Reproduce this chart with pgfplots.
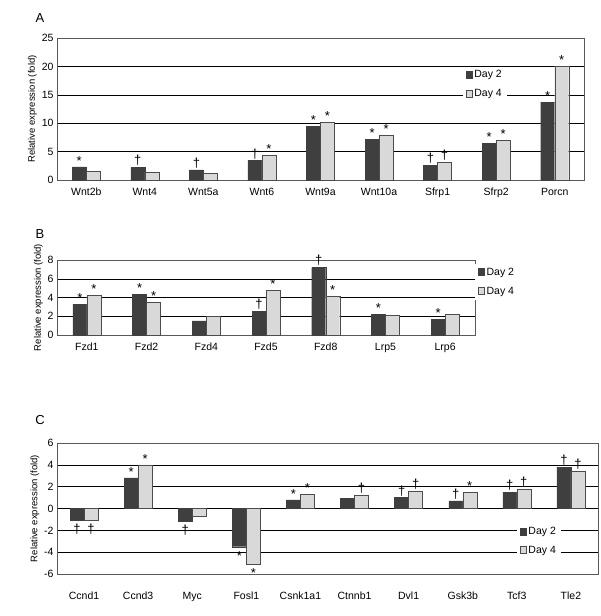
\documentclass[border=0pt]{standalone}
\usepackage{fontspec}
\setmainfont{Liberation Sans}
\usepackage{pgfplots}
\pgfplotsset{compat=1.18}
\definecolor{dk}{HTML}{3F3F3F}
\definecolor{lt}{HTML}{D9D9D9}
\newcommand{\dn}[1]{\smash{\raisebox{-15pt}{#1}}}
\pgfplotsset{
 common/.style={scale only axis, ybar=0pt, bar width=14pt, anchor=north west,
  /pgf/number format/assume math mode=true,
  axis line style={gray!70!black}, tick style={draw=none},
  ymajorgrids, grid style={black, line width=0.4pt},
  xtick=data, ylabel={Relative expression (fold)}, ylabel style={yshift=-2pt, font=\fontsize{9.5}{11}\selectfont},
  font=\fontsize{10.5}{12}\selectfont,
  nodes near coords, point meta=explicit symbolic,
  every node near coord/.append style={font=\fontsize{13}{13}\selectfont, inner sep=1.5pt, anchor=south},
  legend style={draw=none, fill=white, font=\fontsize{10.5}{12}\selectfont, row sep=6pt},
  legend image code/.code={\draw[#1] (0pt,-3pt) rectangle (6pt,4pt);},
  legend cell align=left},
 d2/.style={fill=dk, draw=dk},
 d4/.style={fill=lt, draw=gray!60!black},
}
\begin{document}
\begin{tikzpicture}
\useasboundingbox (0pt,0pt) rectangle (600pt,-616pt);
\node[font=\fontsize{13}{13}\selectfont] at (40pt,-18pt) {A};
\begin{axis}[common, at={(57pt,-38pt)}, width=527pt, height=142pt,
  ymin=0, ymax=25, ytick={0,5,...,25}, xmin=-0.5, xmax=8.5,
  xticklabels={Wnt2b,Wnt4,Wnt5a,Wnt6,Wnt9a,Wnt10a,Sfrp1,Sfrp2,Porcn},
  legend style={at={(0.77,0.8)}, anchor=north west}]
\addplot[d2] coordinates {(0,2.3)[*] (1,2.2)[†] (2,1.8)[†] (3,3.4)[†] (4,9.4)[*] (5,7.2)[*] (6,2.6)[†] (7,6.4)[*] (8,13.7)[*]};
\addplot[d4] coordinates {(0,1.5)[{}] (1,1.4)[{}] (2,1.2)[{}] (3,4.3)[*] (4,10.2)[*] (5,7.8)[*] (6,3.1)[†] (7,7.0)[*] (8,20.0)[*]};
\legend{Day 2,Day 4}
\end{axis}
\node[font=\fontsize{13}{13}\selectfont] at (40pt,-234pt) {B};
\begin{axis}[common, at={(57pt,-260pt)}, width=418pt, height=75pt,
  ymin=0, ymax=8, ytick={0,2,...,8}, xmin=-0.5, xmax=6.5,
  xticklabels={Fzd1,Fzd2,Fzd4,Fzd5,Fzd8,Lrp5,Lrp6},
  legend style={at={(1.0,0.95)}, anchor=north west}]
\addplot[d2] coordinates {(0,3.3)[*] (1,4.3)[*] (2,1.5)[{}] (3,2.5)[†] (4,7.2)[†] (5,2.2)[*] (6,1.7)[*]};
\addplot[d4] coordinates {(0,4.2)[*] (1,3.5)[*] (2,2.0)[{}] (3,4.8)[*] (4,4.1)[*] (5,2.1)[{}] (6,2.2)[{}]};
\legend{Day 2,Day 4}
\end{axis}
\node[font=\fontsize{13}{13}\selectfont] at (40pt,-420pt) {C};
\begin{axis}[common, at={(57pt,-443pt)}, width=541pt, height=131pt,
  ymin=-6, ymax=6, ytick={-6,-4,...,6}, xmin=-0.5, xmax=9.5,
  xticklabel style={yshift=-10pt},
  xticklabels={Ccnd1,Ccnd3,Myc,Fosl1,Csnk1a1,Ctnnb1,Dvl1,Gsk3b,Tcf3,Tle2},
  legend style={at={(0.85,0.25)}, anchor=west}]
\addplot[d2] coordinates {(0,-1.1)[\dn{†}] (1,2.8)[*] (2,-1.2)[\dn{†}] (3,-3.5)[\dn{*}] (4,0.8)[*] (5,0.9)[{}] (6,1.0)[†] (7,0.7)[†] (8,1.5)[†] (9,3.8)[†]};
\addplot[d4] coordinates {(0,-1.1)[\dn{†}] (1,4.0)[*] (2,-0.7)[{}] (3,-5.1)[\dn{*}] (4,1.3)[*] (5,1.2)[†] (6,1.6)[†] (7,1.5)[*] (8,1.8)[†] (9,3.4)[†]};
\legend{Day 2,Day 4}
\end{axis}
\end{tikzpicture}
\end{document}
